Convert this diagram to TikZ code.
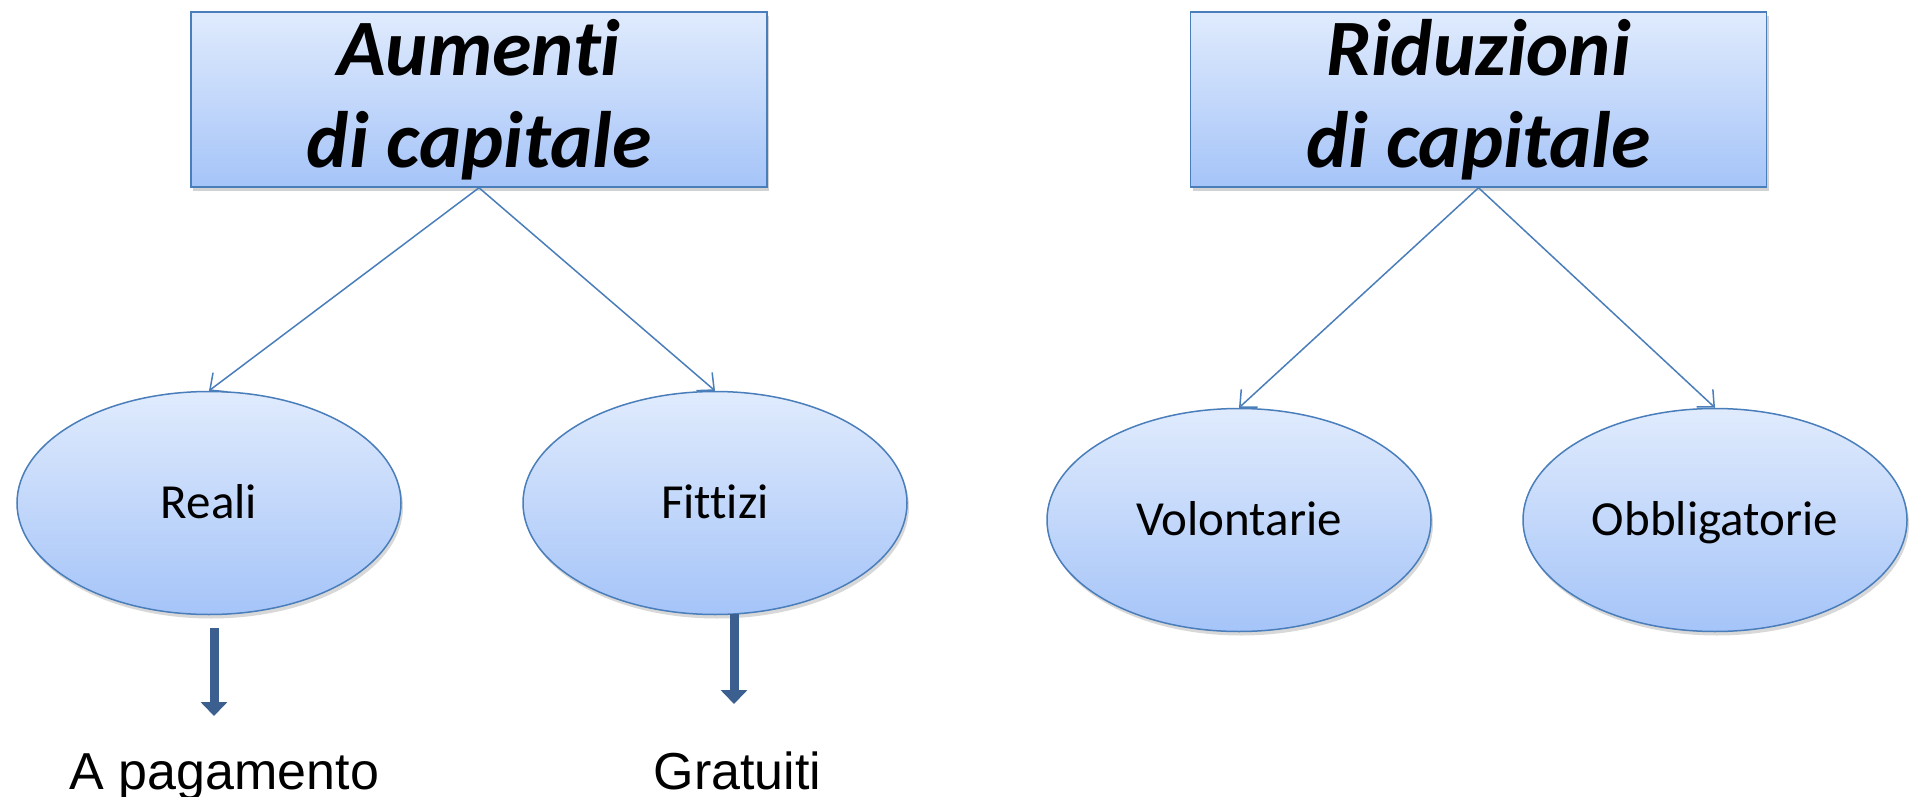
\documentclass[tikz,border=0pt]{standalone}
\usepackage{fontspec}
\setmainfont{Carlito}[Ligatures=CommonOff]
\newfontfamily\arialfont{Liberation Sans}
\usetikzlibrary{arrows.meta,shadows,shapes.geometric}
\definecolor{edgeblue}{HTML}{4A7EBB}
\definecolor{filltop}{HTML}{E0EBFD}
\definecolor{fillbot}{HTML}{A5C4F8}
\definecolor{darkarrow}{HTML}{3B6090}
\tikzset{
  titlebox/.style={draw=edgeblue, line width=1.5pt, top color=filltop, bottom color=fillbot,
    minimum width=576pt, minimum height=175pt, align=center, inner sep=0pt,
    font=\fontsize{80}{92}\selectfont\bfseries\itshape,
    drop shadow={opacity=0.35, shadow xshift=2pt, shadow yshift=-4pt}},
  kindoval/.style={ellipse, draw=edgeblue, line width=1.5pt, top color=filltop, bottom color=fillbot,
    minimum width=384pt, minimum height=223pt, inner sep=0pt,
    text height=31pt, text depth=0pt,
    font=\fontsize{49}{55}\selectfont,
    drop shadow={opacity=0.3, shadow xshift=2pt, shadow yshift=-4pt}},
  thinlink/.style={draw=edgeblue, line width=1.5pt, -{Straight Barb[length=13pt,width=24pt,line width=1.5pt]}},
  thicklink/.style={draw=darkarrow, line width=9pt, -{Triangle[length=14pt,width=26pt]}},
  plainlabel/.style={font=\arialfont\fontsize{52}{58}\selectfont, inner sep=0pt, anchor=base}
}
\begin{document}
\begin{tikzpicture}[x=1pt,y=-1pt]
\useasboundingbox[fill=white] (0,0) rectangle (1917,797);

% top boxes
\node[titlebox] (aum) at (479,99.5) {Aumenti\\di capitale};
\node[titlebox] (rid) at (1478.5,99.5) {Riduzioni\\di capitale};

% second-level ovals
\node[kindoval] (reali) at (209,503) {Reali};
\node[kindoval] (fitt) at (715,503) {Fittizi};
\node[kindoval] (vol) at (1239,520) {Volontarie};
\node[kindoval] (obb) at (1715,520) {Obbligatorie};

% links from the boxes to the ovals
\draw[thinlink] (aum.south) -- (reali.north);
\draw[thinlink] (aum.south) -- (fitt.north);
\draw[thinlink] (rid.south) -- (vol.north);
\draw[thinlink] (rid.south) -- (obb.north);

% bottom labels
\node[plainlabel] (pag) at (224.5,789) {A pagamento};
\node[plainlabel] (grat) at (737.5,789) {Gratuiti};

\coordinate (pagtop) at (214,628);
\coordinate (pagend) at (214,716);
\coordinate (grattop) at (734,614);
\coordinate (gratend) at (734,704);
\draw[thicklink] (pagtop) -- (pagend);
\draw[thicklink] (grattop) -- (gratend);
\end{tikzpicture}
\end{document}
